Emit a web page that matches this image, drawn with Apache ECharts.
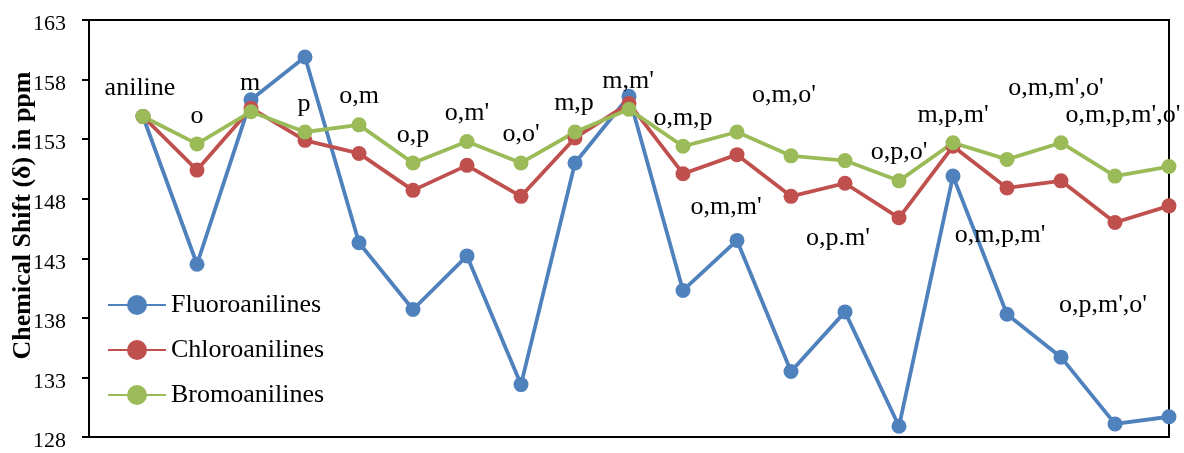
<!DOCTYPE html>
<html>
<head>
<meta charset="utf-8">
<title>Chemical Shift of Haloanilines</title>
<script src="https://cdn.jsdelivr.net/npm/echarts@6/dist/echarts.min.js"></script>
<style>
  html, body { margin: 0; padding: 0; background: #fff; }
  #chart { width: 1184px; height: 453px; }
</style>
</head>
<body>
<div id="chart"></div>
<script>
// Substitution patterns along the x axis
const categories = ['aniline', 'o', 'm', 'p', 'o,m', 'o,p', "o,m'", "o,o'", 'm,p', "m,m'",
  'o,m,p', "o,m,m'", "o,m,o'", "o,p.m'", "o,p,o'", "m,p,m'", "o,m,p,m'", "o,m,m',o'",
  "o,m,p,m',o'", "o,p,m',o'"];

// Chemical shift (ppm) per pattern
const fluoroanilines = [154.9, 142.5, 156.3, 159.9, 144.3, 138.7, 143.2, 132.4, 151.0, 156.6,
  140.3, 144.5, 133.5, 138.5, 128.9, 149.9, 138.3, 134.7, 129.1, 129.7];
const chloroanilines = [154.9, 150.4, 155.6, 152.9, 151.8, 148.7, 150.8, 148.2, 153.1, 156.0,
  150.1, 151.7, 148.2, 149.3, 146.4, 152.4, 148.9, 149.5, 146.0, 147.4];
const bromoanilines = [154.9, 152.6, 155.3, 153.6, 154.2, 151.0, 152.8, 151.0, 153.6, 155.5,
  152.4, 153.6, 151.6, 151.2, 149.5, 152.7, 151.3, 152.7, 149.9, 150.7];

const yTicks = [128, 133, 138, 143, 148, 153, 158, 163];

// Pixel offsets of each pattern label from the Bromoanilines marker it is attached to
const labelOffsets = [[-3, -28], [0, -28], [-1, -29], [-1, -28], [0, -29], [0, -28], [0, -28],
  [0, -29], [-1, -29], [-1, -28], [0, -28], [-11, 75], [-7, -61], [-7, 78], [0, -29],
  [0, -28], [-7, 76], [-5, -55], [8, -61], [-66, 139]];

const serif = '"Liberation Serif", "Times New Roman", serif';
const colors = ['#4F81BD', '#C0504D', '#9BBB59'];

function points(values) {
  return values.map((v, i) => [i + 1, v]);
}

function makeSeries(name, values, color, withLabels) {
  const data = points(values).map((p, i) => {
    if (!withLabels) return p;
    return {
      value: p,
      label: {
        show: true,
        formatter: categories[i],
        position: 'inside',
        offset: labelOffsets[i],
        color: '#000',
        fontFamily: serif,
        fontSize: 26,
        align: 'center',
        verticalAlign: 'middle'
      }
    };
  });
  return {
    name: name,
    type: 'line',
    data: data,
    symbol: 'circle',
    symbolSize: 15,
    showAllSymbol: true,
    color: color,
    lineStyle: { width: 3.8, color: color },
    itemStyle: { color: color },
    emphasis: { disabled: true },
    animation: false
  };
}

const chart = echarts.init(document.getElementById('chart'), null, { renderer: 'canvas' });
chart.setOption({
  backgroundColor: '#fff',
  animation: false,
  grid: {
    left: 89, right: 15, top: 20, bottom: 16,
    outerBoundsMode: 'none',
    containLabel: false,
    show: true, borderColor: '#000', borderWidth: 2, backgroundColor: 'transparent'
  },
  legend: {
    data: ['Fluoroanilines', 'Chloroanilines', 'Bromoanilines'],
    orient: 'vertical',
    left: 102,
    top: 287,
    itemWidth: 58,
    itemHeight: 25,
    itemGap: 19,
    textStyle: { fontFamily: serif, fontSize: 26, color: '#000' },
    selectedMode: false
  },
  xAxis: {
    type: 'value',
    min: 0,
    max: categories.length,
    axisLine: { show: true, lineStyle: { color: '#000', width: 2 } },
    axisTick: { show: false },
    axisLabel: { show: false },
    splitLine: { show: false }
  },
  yAxis: {
    type: 'value',
    min: yTicks[0],
    max: yTicks[yTicks.length - 1],
    name: 'Chemical Shift (δ) in ppm',
    nameLocation: 'middle',
    nameRotate: 90,
    nameGap: 53,
    nameMoveOverlap: false,
    nameTextStyle: {
      fontFamily: serif, fontSize: 26, fontWeight: 'bold', color: '#000',
      padding: [0, 0, 0, 26]
    },
    axisLine: { show: true, lineStyle: { color: '#000', width: 2 } },
    axisTick: { show: true, inside: false, length: 7, customValues: yTicks, lineStyle: { color: '#000', width: 2 } },
    axisLabel: {
      show: true, customValues: yTicks, margin: 23,
      fontFamily: serif, fontSize: 22, color: '#000',
      verticalAlign: 'top', lineHeight: 9
    },
    splitLine: { show: false }
  },
  series: [
    makeSeries('Fluoroanilines', fluoroanilines, colors[0], false),
    makeSeries('Chloroanilines', chloroanilines, colors[1], false),
    makeSeries('Bromoanilines', bromoanilines, colors[2], true)
  ]
});
</script>
</body>
</html>
